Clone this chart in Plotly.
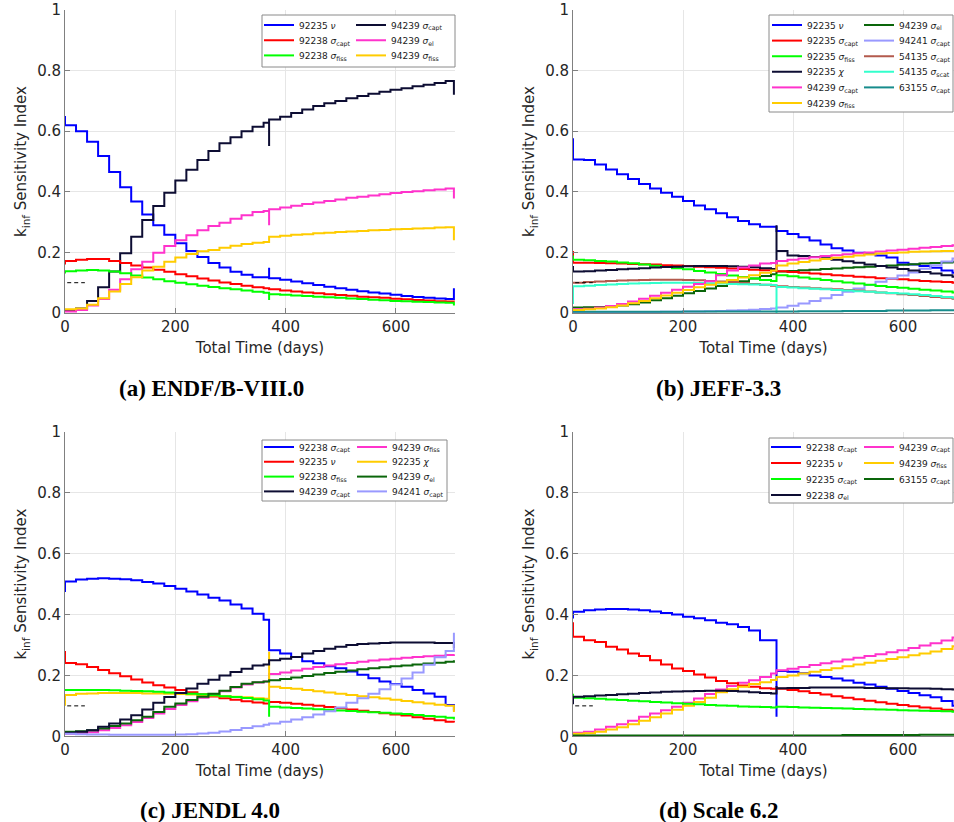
import plotly.graph_objects as go

# ---------------- data ----------------
TIME_DAYS = [0, 0, 20, 40, 60, 80, 100, 120, 140, 160, 180, 200, 220, 240, 260, 280, 300, 320, 340, 360,
             370, 370, 390, 410, 430, 450, 470, 490, 510, 530, 550, 570, 590, 610, 630, 650, 670, 690, 705]

# (a) ENDF/B-VIII.0
A_U235_NU = [0.65,
    0.62, 0.60, 0.565, 0.518, 0.465, 0.415, 0.368, 0.325, 0.29, 0.258, 0.23, 0.205, 0.185, 0.165, 0.15, 0.136, 0.126, 0.118, 0.118,
    0.149,
    0.115, 0.11, 0.104, 0.098, 0.092, 0.087, 0.082, 0.077, 0.072, 0.068, 0.064, 0.06, 0.056, 0.053, 0.05, 0.048, 0.046,
    0.082]
A_U238_CAPT = [0.16,
    0.172, 0.176, 0.178, 0.178, 0.172, 0.165, 0.157, 0.15, 0.143, 0.136, 0.128, 0.121, 0.114, 0.107, 0.101, 0.096, 0.09, 0.085, 0.082,
    0.082,
    0.078, 0.074, 0.071, 0.068, 0.065, 0.062, 0.059, 0.057, 0.054, 0.052, 0.05, 0.047, 0.045, 0.043, 0.041, 0.039, 0.038,
    0.037]
A_U238_FISS = [0.13,
    0.138, 0.14, 0.142, 0.14, 0.137, 0.131, 0.124, 0.117, 0.111, 0.105, 0.1, 0.095, 0.09, 0.086, 0.082, 0.078, 0.074, 0.07, 0.067,
    0.043,
    0.062, 0.06, 0.058, 0.056, 0.054, 0.052, 0.05, 0.048, 0.046, 0.044, 0.042, 0.04, 0.039, 0.037, 0.036, 0.035, 0.034,
    0.025]
A_PU239_CAPT = [0.005,
    0.01, 0.015, 0.04, 0.085, 0.137, 0.197, 0.252, 0.307, 0.353, 0.397, 0.437, 0.473, 0.505, 0.535, 0.56, 0.58, 0.6, 0.615, 0.628,
    0.551,
    0.639, 0.648, 0.66, 0.672, 0.683, 0.692, 0.70, 0.709, 0.716, 0.724, 0.73, 0.737, 0.742, 0.748, 0.753, 0.759, 0.766,
    0.72]
A_PU239_EL = [0.005,
    0.005, 0.01, 0.025, 0.046, 0.077, 0.111, 0.144, 0.169, 0.199, 0.221, 0.24, 0.257, 0.273, 0.287, 0.298, 0.311, 0.323, 0.333, 0.337,
    0.29,
    0.342, 0.348, 0.354, 0.36, 0.365, 0.37, 0.375, 0.38, 0.384, 0.388, 0.392, 0.396, 0.399, 0.402, 0.405, 0.408, 0.411,
    0.378]
A_PU239_FISS = [0.01,
    0.012, 0.015, 0.027, 0.049, 0.071, 0.096, 0.118, 0.14, 0.153, 0.169, 0.183, 0.195, 0.204, 0.208, 0.215, 0.222, 0.228, 0.232, 0.234,
    0.234,
    0.252, 0.255, 0.258, 0.26, 0.263, 0.265, 0.267, 0.269, 0.271, 0.273, 0.274, 0.276, 0.277, 0.279, 0.28, 0.282, 0.283,
    0.24]

# (b) JEFF-3.3
B_U235_NU = [0.577,
    0.507, 0.505, 0.49, 0.474, 0.458, 0.442, 0.426, 0.411, 0.397, 0.384, 0.37, 0.355, 0.342, 0.329, 0.316, 0.304, 0.293, 0.285, 0.285,
    0.285,
    0.271, 0.261, 0.25, 0.239, 0.226, 0.214, 0.206, 0.199, 0.195, 0.19, 0.183, 0.166, 0.16, 0.155, 0.149, 0.14, 0.133,
    0.13]
B_U235_CAPT = [0.205,
    0.166, 0.166, 0.165, 0.164, 0.163, 0.162, 0.161, 0.16, 0.158, 0.157, 0.155, 0.153, 0.151, 0.149, 0.147, 0.145, 0.143, 0.141, 0.14,
    0.14,
    0.138, 0.135, 0.133, 0.13, 0.128, 0.125, 0.123, 0.12, 0.118, 0.115, 0.113, 0.111, 0.108, 0.106, 0.104, 0.102, 0.1,
    0.1]
B_U235_FISS = [0.19,
    0.176, 0.174, 0.172, 0.17, 0.167, 0.164, 0.16, 0.156, 0.152, 0.148, 0.144, 0.139, 0.134, 0.129, 0.124, 0.119, 0.114, 0.109, 0.106,
    0.106,
    0.125, 0.121, 0.117, 0.113, 0.109, 0.105, 0.101, 0.097, 0.093, 0.089, 0.086, 0.083, 0.08, 0.077, 0.074, 0.071, 0.068,
    0.068]
B_U235_CHI = [0.155,
    0.137, 0.138, 0.14, 0.142, 0.144, 0.146, 0.148, 0.15, 0.152, 0.153, 0.154, 0.155, 0.155, 0.155, 0.154, 0.153, 0.151, 0.148, 0.145,
    0.29,
    0.205, 0.19, 0.188, 0.185, 0.181, 0.176, 0.171, 0.166, 0.16, 0.155, 0.15, 0.145, 0.14, 0.135, 0.13, 0.125, 0.12,
    0.115]
B_PU239_CAPT = [0.012,
    0.012, 0.014, 0.018, 0.023, 0.03, 0.038, 0.047, 0.057, 0.067, 0.077, 0.087, 0.096, 0.105, 0.125, 0.14, 0.15, 0.157, 0.163, 0.165,
    0.14,
    0.172, 0.176, 0.18, 0.184, 0.188, 0.191, 0.194, 0.197, 0.2, 0.203, 0.206, 0.209, 0.212, 0.215, 0.218, 0.221, 0.224,
    0.225]
B_PU239_FISS = [0.01,
    0.01, 0.012, 0.015, 0.019, 0.025, 0.032, 0.04, 0.049, 0.058, 0.067, 0.076, 0.085, 0.093, 0.101, 0.109, 0.117, 0.125, 0.133, 0.14,
    0.14,
    0.157, 0.163, 0.168, 0.173, 0.178, 0.182, 0.186, 0.19, 0.193, 0.196, 0.198, 0.2, 0.202, 0.203, 0.204, 0.205, 0.205,
    0.205]
B_PU239_EL = [0.018,
    0.018, 0.019, 0.02, 0.022, 0.025, 0.029, 0.035, 0.042, 0.049, 0.057, 0.065, 0.073, 0.081, 0.089, 0.097, 0.105, 0.114, 0.122, 0.128,
    0.128,
    0.137, 0.139, 0.141, 0.143, 0.145, 0.147, 0.149, 0.151, 0.153, 0.155, 0.157, 0.159, 0.161, 0.163, 0.165, 0.167, 0.169,
    0.17]
B_PU241_CAPT = [0.003,
    0.003, 0.003, 0.003, 0.003, 0.003, 0.003, 0.003, 0.003, 0.004, 0.004, 0.005, 0.005, 0.006, 0.007, 0.008, 0.009, 0.011, 0.013, 0.015,
    0.015,
    0.018, 0.024, 0.031, 0.04, 0.049, 0.059, 0.07, 0.081, 0.092, 0.103, 0.114, 0.124, 0.134, 0.146, 0.158, 0.17, 0.18,
    0.18]
B_XE135_CAPT = [0.1,
    0.1, 0.102, 0.104, 0.106, 0.107, 0.108, 0.109, 0.11, 0.11, 0.11, 0.109, 0.108, 0.106, 0.104, 0.102, 0.099, 0.096, 0.093, 0.09,
    0.09,
    0.088, 0.086, 0.084, 0.082, 0.08, 0.078, 0.076, 0.074, 0.071, 0.068, 0.065, 0.062, 0.059, 0.056, 0.053, 0.05, 0.047,
    0.047]
B_XE135_SCAT = [0.03,
    0.088, 0.09, 0.092, 0.094, 0.096, 0.097, 0.098, 0.099, 0.1, 0.1, 0.1, 0.099, 0.098, 0.097, 0.096, 0.095, 0.094, 0.093, 0.092,
    0.0,
    0.086, 0.084, 0.082, 0.08, 0.078, 0.076, 0.074, 0.072, 0.07, 0.068, 0.066, 0.064, 0.062, 0.059, 0.056, 0.053, 0.05,
    0.05]
B_EU155_CAPT = [0.004,
    0.004, 0.004, 0.004, 0.004, 0.004, 0.004, 0.004, 0.004, 0.004, 0.004, 0.005, 0.005, 0.005, 0.005, 0.005, 0.005, 0.005, 0.005, 0.005,
    0.005,
    0.005, 0.005, 0.006, 0.006, 0.006, 0.006, 0.007, 0.007, 0.007, 0.007, 0.008, 0.008, 0.008, 0.008, 0.009, 0.009, 0.009,
    0.009]

# (c) JENDL 4.0
C_U238_CAPT = [0.474,
    0.509, 0.515, 0.518, 0.519, 0.518, 0.516, 0.513, 0.507, 0.502, 0.494, 0.485, 0.476, 0.466, 0.455, 0.446, 0.433, 0.42, 0.403, 0.383,
    0.383,
    0.283, 0.272, 0.261, 0.247, 0.24, 0.23, 0.224, 0.213, 0.202, 0.191, 0.18, 0.172, 0.163, 0.152, 0.141, 0.13, 0.103,
    0.085]
C_U235_NU = [0.28,
    0.241, 0.237, 0.228, 0.218, 0.207, 0.197, 0.187, 0.177, 0.168, 0.16, 0.152, 0.145, 0.138, 0.131, 0.125, 0.12, 0.115, 0.111, 0.108,
    0.108,
    0.113, 0.11, 0.107, 0.104, 0.1, 0.096, 0.092, 0.088, 0.084, 0.08, 0.076, 0.072, 0.068, 0.063, 0.058, 0.053, 0.048,
    0.045]
C_U238_FISS = [0.152,
    0.152, 0.152, 0.152, 0.152, 0.151, 0.15, 0.149, 0.148, 0.146, 0.144, 0.142, 0.14, 0.138, 0.135, 0.132, 0.129, 0.126, 0.122, 0.118,
    0.064,
    0.097, 0.095, 0.093, 0.091, 0.089, 0.087, 0.085, 0.083, 0.081, 0.079, 0.077, 0.075, 0.073, 0.07, 0.067, 0.064, 0.061,
    0.055]
C_PU239_CAPT = [0.01,
    0.012, 0.015, 0.02, 0.031, 0.042, 0.055, 0.069, 0.088, 0.11, 0.129, 0.142, 0.157, 0.173, 0.186, 0.2, 0.211, 0.222, 0.233, 0.236,
    0.236,
    0.25, 0.255, 0.261, 0.272, 0.28, 0.288, 0.294, 0.3, 0.303, 0.305, 0.307, 0.308, 0.308, 0.308, 0.308, 0.307, 0.307,
    0.29]
C_PU239_FISS = [0.008,
    0.008, 0.01, 0.013, 0.02, 0.027, 0.036, 0.047, 0.06, 0.075, 0.09, 0.103, 0.115, 0.127, 0.138, 0.148, 0.16, 0.17, 0.177, 0.18,
    0.18,
    0.205, 0.21, 0.216, 0.222, 0.228, 0.233, 0.237, 0.241, 0.245, 0.249, 0.252, 0.255, 0.258, 0.261, 0.263, 0.265, 0.267,
    0.27]
C_U235_CHI = [0.1,
    0.136, 0.14, 0.141, 0.142, 0.142, 0.142, 0.142, 0.141, 0.141, 0.14, 0.139, 0.137, 0.136, 0.134, 0.132, 0.13, 0.128, 0.125, 0.123,
    0.278,
    0.163, 0.159, 0.156, 0.152, 0.148, 0.144, 0.14, 0.136, 0.132, 0.128, 0.124, 0.12, 0.116, 0.112, 0.108, 0.104, 0.1,
    0.08]
C_PU239_EL = [0.015,
    0.015, 0.017, 0.02, 0.026, 0.034, 0.042, 0.053, 0.064, 0.08, 0.097, 0.108, 0.119, 0.13, 0.14, 0.15, 0.162, 0.173, 0.178, 0.18,
    0.18,
    0.184, 0.188, 0.193, 0.198, 0.203, 0.208, 0.212, 0.216, 0.22, 0.224, 0.227, 0.23, 0.233, 0.236, 0.239, 0.242, 0.245,
    0.25]
C_PU241_CAPT = [0.008,
    0.008, 0.007, 0.006, 0.006, 0.005, 0.005, 0.005, 0.005, 0.005, 0.005, 0.006, 0.007, 0.009, 0.012, 0.016, 0.021, 0.027, 0.033, 0.038,
    0.038,
    0.042, 0.048, 0.055, 0.063, 0.072, 0.082, 0.095, 0.11, 0.125, 0.14, 0.155, 0.17, 0.19, 0.21, 0.235, 0.26, 0.28,
    0.34]

# (d) Scale 6.2
D_U238_CAPT = [0.387,
    0.409, 0.414, 0.417, 0.418, 0.418, 0.417, 0.414, 0.41, 0.405, 0.4, 0.393, 0.388, 0.381, 0.373, 0.368, 0.359, 0.348, 0.316, 0.316,
    0.064,
    0.215, 0.212, 0.207, 0.2, 0.195, 0.19, 0.183, 0.176, 0.17, 0.163, 0.156, 0.149, 0.142, 0.135, 0.128, 0.116, 0.1,
    0.09]
D_U235_NU = [0.375,
    0.327, 0.316, 0.31, 0.294, 0.285, 0.272, 0.264, 0.25, 0.236, 0.223, 0.215, 0.203, 0.193, 0.182, 0.174, 0.167, 0.163, 0.158, 0.156,
    0.156,
    0.156, 0.152, 0.148, 0.142, 0.137, 0.132, 0.127, 0.122, 0.117, 0.112, 0.107, 0.103, 0.099, 0.095, 0.091, 0.087, 0.083,
    0.082]
D_U235_CAPT = [0.14,
    0.127, 0.125, 0.123, 0.121, 0.119, 0.117, 0.115, 0.113, 0.111, 0.109, 0.107, 0.105, 0.103, 0.101, 0.1, 0.098, 0.097, 0.096, 0.095,
    0.095,
    0.097, 0.096, 0.095, 0.094, 0.093, 0.092, 0.091, 0.09, 0.089, 0.088, 0.087, 0.086, 0.085, 0.084, 0.083, 0.082, 0.081,
    0.08]
D_U238_EL = [0.105,
    0.13, 0.132, 0.134, 0.136, 0.138, 0.14, 0.142, 0.144, 0.146, 0.147, 0.148, 0.149, 0.15, 0.15, 0.149, 0.147, 0.145, 0.142, 0.141,
    0.165,
    0.158, 0.159, 0.159, 0.16, 0.16, 0.16, 0.16, 0.16, 0.159, 0.159, 0.158, 0.158, 0.157, 0.157, 0.156, 0.155, 0.154,
    0.147]
D_PU239_CAPT = [0.01,
    0.012, 0.015, 0.022, 0.031, 0.04, 0.051, 0.064, 0.075, 0.086, 0.097, 0.11, 0.124, 0.139, 0.154, 0.165, 0.176, 0.184, 0.195, 0.206,
    0.206,
    0.217, 0.222, 0.228, 0.234, 0.24, 0.246, 0.252, 0.258, 0.264, 0.27, 0.276, 0.283, 0.29, 0.298, 0.306, 0.315, 0.325,
    0.338]
D_PU239_FISS = [0.008,
    0.008, 0.01, 0.015, 0.022, 0.03, 0.04, 0.051, 0.063, 0.075, 0.087, 0.1, 0.113, 0.127, 0.145, 0.155, 0.163, 0.172, 0.178, 0.185,
    0.185,
    0.195, 0.2, 0.206, 0.212, 0.218, 0.224, 0.23, 0.236, 0.242, 0.248, 0.254, 0.26, 0.266, 0.272, 0.279, 0.287, 0.296,
    0.302]
D_EU155_CAPT = [0.003,
    0.003, 0.003, 0.003, 0.003, 0.003, 0.003, 0.003, 0.003, 0.003, 0.003, 0.003, 0.003, 0.003, 0.003, 0.003, 0.003, 0.003, 0.003, 0.003,
    0.003,
    0.003, 0.003, 0.003, 0.003, 0.003, 0.003, 0.004, 0.004, 0.004, 0.004, 0.004, 0.004, 0.004, 0.005, 0.005, 0.005, 0.005,
    0.005]

DASH_T = [4, 36]
DASH_V = [0.1, 0.1]

X_TICKS = [0, 200, 400, 600]
Y_TICKS = [0, 0.2, 0.4, 0.6, 0.8, 1]

PANEL_TITLES = ["(a) ENDF/B-VIII.0", "(b) JEFF-3.3", "(c) JENDL 4.0", "(d) Scale 6.2"]

# ---------------- styling ----------------
BLUE, RED, GREEN, NAVY = "#0000FF", "#FF0000", "#00FF00", "#0D0D33"
MAGENTA, GOLD, DKGREEN = "#FF33CC", "#FFCC00", "#0A660A"
LILAC, BROWN, AQUA, TEAL = "#9999FF", "#B35A4D", "#33FFCC", "#178C8C"

W, H = 954, 822
def px(x):
    return x / W
def py(y):
    return 1 - y / H

def nm(iso, sym, sub=None):
    s = f"{iso} <i>{sym}</i>"
    if sub:
        s += f"<sub>{sub}</sub>"
    return s

panels = [
    dict(ax="", dom_x=(65, 455), dom_y=(10, 313), xr=[0, 707],
         col1=[(nm(92235, "ν"), A_U235_NU, BLUE), (nm(92238, "σ", "capt"), A_U238_CAPT, RED),
               (nm(92238, "σ", "fiss"), A_U238_FISS, GREEN)],
         col2=[(nm(94239, "σ", "capt"), A_PU239_CAPT, NAVY), (nm(94239, "σ", "el"), A_PU239_EL, MAGENTA),
               (nm(94239, "σ", "fiss"), A_PU239_FISS, GOLD)],
         leg_x=(265, 357), leg_y0=25, pitch=15.2, box=(262, 15, 455, 67),
         title_xy=(211, 389)),
    dict(ax="2", dom_x=(573, 954), dom_y=(10, 313), xr=[0, 692.7],
         col1=[(nm(92235, "ν"), B_U235_NU, BLUE), (nm(92235, "σ", "capt"), B_U235_CAPT, RED),
               (nm(92235, "σ", "fiss"), B_U235_FISS, GREEN), (nm(92235, "χ"), B_U235_CHI, NAVY),
               (nm(94239, "σ", "capt"), B_PU239_CAPT, MAGENTA), (nm(94239, "σ", "fiss"), B_PU239_FISS, GOLD)],
         col2=[(nm(94239, "σ", "el"), B_PU239_EL, DKGREEN), (nm(94241, "σ", "capt"), B_PU241_CAPT, LILAC),
               (nm(54135, "σ", "capt"), B_XE135_CAPT, BROWN), (nm(54135, "σ", "scat"), B_XE135_SCAT, AQUA),
               (nm(63155, "σ", "capt"), B_EU155_CAPT, TEAL)],
         leg_x=(773, 865), leg_y0=25, pitch=15.6, box=(769, 15, 953, 112),
         title_xy=(718, 389)),
    dict(ax="3", dom_x=(65, 455), dom_y=(432, 736.3), xr=[0, 707],
         col1=[(nm(92238, "σ", "capt"), C_U238_CAPT, BLUE), (nm(92235, "ν"), C_U235_NU, RED),
               (nm(92238, "σ", "fiss"), C_U238_FISS, GREEN), (nm(94239, "σ", "capt"), C_PU239_CAPT, NAVY)],
         col2=[(nm(94239, "σ", "fiss"), C_PU239_FISS, MAGENTA), (nm(92235, "χ"), C_U235_CHI, GOLD),
               (nm(94239, "σ", "el"), C_PU239_EL, DKGREEN), (nm(94241, "σ", "capt"), C_PU241_CAPT, LILAC)],
         leg_x=(265, 358), leg_y0=447, pitch=14.8, box=(262, 440, 447, 501),
         title_xy=(210, 810)),
    dict(ax="4", dom_x=(573, 954), dom_y=(432, 736.3), xr=[0, 692.7],
         col1=[(nm(92238, "σ", "capt"), D_U238_CAPT, BLUE), (nm(92235, "ν"), D_U235_NU, RED),
               (nm(92235, "σ", "capt"), D_U235_CAPT, GREEN), (nm(92238, "σ", "el"), D_U238_EL, NAVY)],
         col2=[(nm(94239, "σ", "capt"), D_PU239_CAPT, MAGENTA), (nm(94239, "σ", "fiss"), D_PU239_FISS, GOLD),
               (nm(63155, "σ", "capt"), D_EU155_CAPT, DKGREEN)],
         leg_x=(772, 865), leg_y0=447, pitch=16.0, box=(769, 438, 953, 503),
         title_xy=(718, 810)),
]

FONT = "DejaVu Sans"
TXT = "#262626"
fig = go.Figure()
layout = dict(width=W, height=H, margin=dict(l=0, r=0, t=0, b=0, autoexpand=False),
              paper_bgcolor="white", plot_bgcolor="white", showlegend=True,
              font=dict(family=FONT, size=15, color=TXT))
shapes, annotations = [], []
leg_n = 0

for p in panels:
    xa = "x" + p["ax"]
    ya = "y" + p["ax"]
    rows = max(len(p["col1"]), len(p["col2"]))
    col1_w = p["leg_x"][1] - p["leg_x"][0] - 45
    for r in range(rows):
        leg_n += 1
        lid = "legend" if leg_n == 1 else f"legend{leg_n}"
        layout[lid] = dict(orientation="h", x=px(p["leg_x"][0] - 6), y=py(p["leg_y0"] + r * p["pitch"]),
                           xanchor="left", yanchor="middle", bgcolor="rgba(0,0,0,0)", borderwidth=0,
                           font=dict(family=FONT, size=9, color="#1a1a1a"),
                           entrywidthmode="pixels",
                           itemwidth=30, itemclick=False, itemdoubleclick=False)
        for c, col in enumerate((p["col1"], p["col2"])):
            if r < len(col):
                name, vals, color = col[r]
                assert len(vals) == len(TIME_DAYS), name
                fig.add_trace(go.Scatter(x=TIME_DAYS, y=vals, mode="lines", name=name,
                                         line=dict(color=color, width=2, shape="hv"),
                                         xaxis=xa, yaxis=ya, legend=lid, legendrank=c + 1,
                                         legendwidth=col1_w if c == 0 else 80))
    fig.add_trace(go.Scatter(x=DASH_T, y=DASH_V, mode="lines", showlegend=False,
                             line=dict(color="black", width=1, dash="4px,3px"), xaxis=xa, yaxis=ya))

    axn = "xaxis" + p["ax"]
    ayn = "yaxis" + p["ax"]
    layout[axn] = dict(domain=[px(p["dom_x"][0]), px(p["dom_x"][1])], anchor=ya, range=p["xr"],
                       tickvals=X_TICKS, ticks="inside", ticklen=5, tickcolor="#808080",
                       showline=True, linecolor="#808080", linewidth=1, mirror=False,
                       showgrid=True, gridcolor="#E6E6E6", zeroline=False, automargin=False,
                       tickfont=dict(family=FONT, size=15, color=TXT),
                       title=dict(text="Total Time (days)", font=dict(family=FONT, size=15, color=TXT), standoff=7))
    layout[ayn] = dict(domain=[py(p["dom_y"][1]), py(p["dom_y"][0])], anchor=xa, range=[0, 1],
                       tickvals=Y_TICKS, ticks="inside", ticklen=5, tickcolor="#808080",
                       showline=True, linecolor="#808080", linewidth=1, mirror=False,
                       showgrid=True, gridcolor="#E6E6E6", zeroline=False, automargin=False,
                       tickfont=dict(family=FONT, size=15, color=TXT),
                       title=dict(text="k<sub>inf</sub> Sensitivity Index",
                                  font=dict(family=FONT, size=15, color=TXT), standoff=6))
    bx = p["box"]
    shapes.append(dict(type="rect", xref="paper", yref="paper", x0=px(bx[0]), x1=px(bx[2]),
                       y0=py(bx[3]), y1=py(bx[1]), line=dict(color="#8a8a8a", width=1),
                       fillcolor="white", layer="above"))

for p, t in zip(panels, PANEL_TITLES):
    annotations.append(dict(text=f"<b>{t}</b>", x=px(p["title_xy"][0]), y=py(p["title_xy"][1]),
                            xref="paper", yref="paper", xanchor="center", yanchor="middle",
                            showarrow=False, font=dict(family="Liberation Serif", size=23, color="black")))

layout["shapes"] = shapes
layout["annotations"] = annotations
fig.update_layout(**layout)
fig.write_html("out.html", config={"displayModeBar": False},
               post_script="document.body.style.margin='0px';")
